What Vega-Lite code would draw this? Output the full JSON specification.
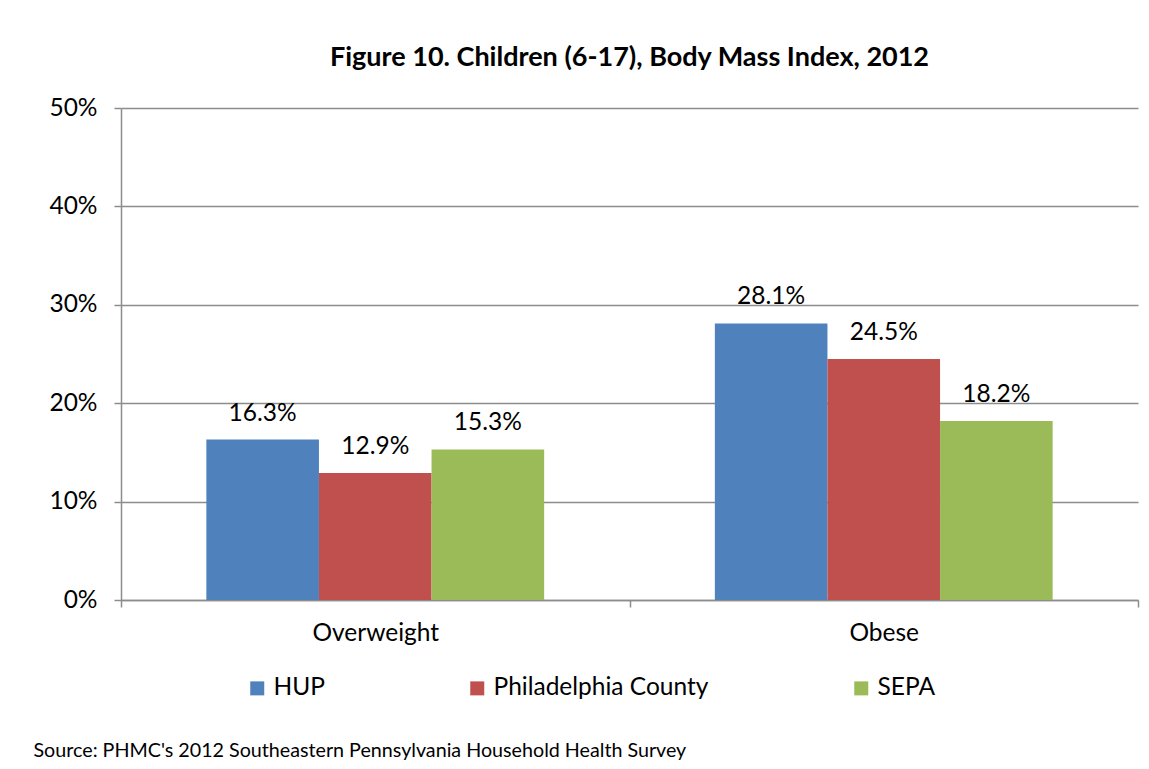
{
  "$schema": "https://vega.github.io/schema/vega-lite/v6.json",
  "width": 1017,
  "height": 492,
  "autosize": "none",
  "padding": {"left": 121, "top": 108, "right": 11, "bottom": 169},
  "background": "white",
  "config": {
    "font": "Lato",
    "view": {"stroke": null}
  },
  "title": {
    "text": "Figure 10. Children (6-17), Body Mass Index, 2012",
    "anchor": "middle",
    "fontSize": 27,
    "fontWeight": "bold",
    "color": "#000000",
    "baseline": "alphabetic",
    "offset": 2
  },
  "data": {
    "values": [
      {"category": "Overweight", "region": "HUP", "value": 0.163},
      {"category": "Overweight", "region": "Philadelphia County", "value": 0.129},
      {"category": "Overweight", "region": "SEPA", "value": 0.153},
      {"category": "Obese", "region": "HUP", "value": 0.281},
      {"category": "Obese", "region": "Philadelphia County", "value": 0.245},
      {"category": "Obese", "region": "SEPA", "value": 0.182}
    ]
  },
  "encoding": {
    "x": {
      "field": "category",
      "type": "nominal",
      "sort": ["Overweight", "Obese"],
      "scale": {"paddingInner": 0, "paddingOuter": 0},
      "axis": {
        "title": "Source: PHMC's  2012 Southeastern Pennsylvania Household Health Survey",
        "titleX": -88,
        "titleY": 156,
        "titleAlign": "left",
        "titleAnchor": "start",
        "titleBaseline": "alphabetic",
        "titleFontSize": 19.7,
        "titleFontWeight": "normal",
        "titleColor": "#000000",
        "labelAngle": 0,
        "labelFontSize": 24.5,
        "labelColor": "#000000",
        "labelPadding": 14,
        "tickBand": "extent",
        "tickSize": 7,
        "tickColor": "#8c8c8c",
        "tickWidth": 1.5,
        "domainColor": "#8c8c8c",
        "domainWidth": 1.5,
        "grid": false
      }
    },
    "xOffset": {
      "field": "region",
      "type": "nominal",
      "sort": ["HUP", "Philadelphia County", "SEPA"],
      "scale": {"paddingInner": 0, "paddingOuter": 0.758}
    },
    "y": {
      "field": "value",
      "type": "quantitative",
      "scale": {"domain": [0, 0.5]},
      "axis": {
        "title": null,
        "values": [0, 0.1, 0.2, 0.3, 0.4, 0.5],
        "format": ".0%",
        "labelFontSize": 24.5,
        "labelColor": "#000000",
        "labelPadding": 17,
        "tickSize": 7,
        "tickColor": "#8c8c8c",
        "tickWidth": 1.5,
        "domainColor": "#8c8c8c",
        "domainWidth": 1.5,
        "grid": true,
        "gridColor": "#8c8c8c",
        "gridWidth": 1.5
      }
    }
  },
  "layer": [
    {
      "mark": {"type": "bar"},
      "encoding": {
        "color": {
          "field": "region",
          "type": "nominal",
          "sort": ["HUP", "Philadelphia County", "SEPA"],
          "scale": {"range": ["#4F81BD", "#C0504D", "#9BBB59"]},
          "legend": {
            "title": null,
            "orient": "none",
            "direction": "horizontal",
            "legendX": 124,
            "legendY": 568,
            "symbolType": "square",
            "symbolSize": 196,
            "symbolStrokeWidth": 0,
            "labelFontSize": 24.5,
            "labelColor": "#000000",
            "labelOffset": 4,
            "columnPadding": 140,
            "labelLimit": 400
          }
        }
      }
    },
    {
      "mark": {"type": "text", "fontSize": 24.5, "baseline": "alphabetic", "dy": -19, "color": "#000000"},
      "encoding": {
        "text": {"field": "value", "type": "quantitative", "format": ".1%"},
        "detail": {"field": "region"}
      }
    }
  ]
}
